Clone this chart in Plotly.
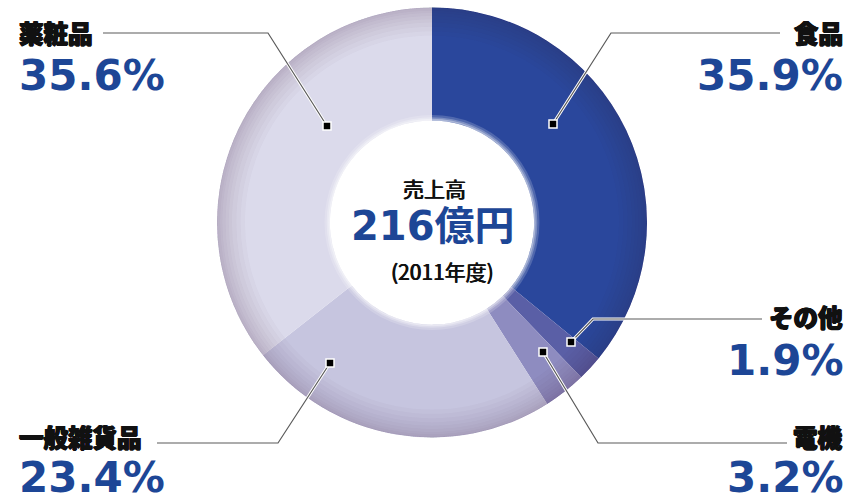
import plotly.graph_objects as go

# ---- data ----
categories = ["食品", "その他", "電機", "一般雑貨品", "薬粧品"]
values = [35.9, 1.9, 3.2, 23.4, 35.6]
total_label = "売上高"
total_value = "216億円"
total_note = "(2011年度)"

# ---- style ----
slice_colors = ["#2a479c", "#5a5fa6", "#8e8cc0", "#c6c5df", "#dbdaeb"]
W, H = 850, 502
CX, CY, R = 432, 222.5, 215
HOLE = 0.475
BLUE = "#1d4696"
JP = "Noto Sans CJK JP"
NUM = "DejaVu Sans, Noto Sans CJK JP"
BOLD_SHADOW = "0.8px 0 0 #111, -0.8px 0 0 #111, 0 0.6px 0 #111, 0 -0.5px 0 #111"
MED_SHADOW = "0.4px 0 0 #111, -0.4px 0 0 #111"


def px(x):
    return x / W


def py(y):
    return 1 - y / H


def ring_domain(r):
    return dict(x=[px(CX - r), px(CX + r)], y=[py(CY + r), py(CY - r)])


dom = ring_domain(R)

fig = go.Figure()
fig.add_trace(go.Pie(
    labels=categories, values=values, sort=False, direction="clockwise",
    rotation=0, hole=HOLE, domain=dom, textinfo="none", hoverinfo="label+percent",
    marker=dict(colors=slice_colors, line=dict(width=0)), showlegend=False,
))

# smooth rim shading (many faint overlay rings)
for h in [0.995, 0.985, 0.975, 0.96, 0.945, 0.93, 0.91, 0.89, 0.87]:
    fig.add_trace(go.Pie(values=[1], hole=h, domain=dom, textinfo="none",
                         hoverinfo="skip", sort=False, showlegend=False,
                         marker=dict(colors=["rgba(60,45,90,0.028)"], line=dict(width=0))))

# soft white glow around the hole
for rr, a in [(0.50, 0.18), (0.49, 0.25), (0.482, 0.35)]:
    r_px = R * rr
    fig.add_trace(go.Pie(values=[1], hole=HOLE / rr, domain=ring_domain(r_px), textinfo="none",
                         hoverinfo="skip", sort=False, showlegend=False,
                         marker=dict(colors=[f"rgba(255,255,255,{a})"], line=dict(width=0))))

# ---- labels with leader lines ----
# (label index, marker point, elbow point, line end, anchor side, text x, label y, pct y)
callouts = [
    (0, (553, 124), (611, 33), (780, 33), "right", 845, 33, 76),
    (1, (571, 342), (593, 319), (762, 319), "right", 845, 316, 360),
    (2, (543, 352), (598, 443), (787, 443), "right", 845, 436, 477.5),
    (3, (330, 363), (278, 443), (157, 443), "left", 17, 436, 477.5),
    (4, (327, 126), (268, 33), (103, 33), "left", 17, 33, 76),
]

shapes = []
annotations = []
for idx, m, e, end, side, tx, ly, pyy in callouts:
    path = f"M {px(m[0])},{py(m[1])} L {px(e[0])},{py(e[1])} L {px(end[0])},{py(end[1])}"
    shapes.append(dict(type="path", path=path, xref="paper", yref="paper",
                       line=dict(color="white", width=3.2)))
    shapes.append(dict(type="path", path=path, xref="paper", yref="paper",
                       line=dict(color="#5a5a5a", width=1.2)))
    s = 4
    shapes.append(dict(type="rect", xref="paper", yref="paper",
                       x0=px(m[0] - s), x1=px(m[0] + s), y0=py(m[1] + s), y1=py(m[1] - s),
                       fillcolor="black", line=dict(color="white", width=1.5)))
    annotations.append(dict(text=categories[idx], x=px(tx), y=py(ly),
                            xref="paper", yref="paper", xanchor=side, yanchor="middle",
                            showarrow=False,
                            font=dict(family=JP, size=24.5, color="#111111", weight=900,
                                      shadow=BOLD_SHADOW)))
    annotations.append(dict(text=f"<b>{values[idx]}%</b>", x=px(tx), y=py(pyy),
                            xref="paper", yref="paper", xanchor=side, yanchor="middle",
                            showarrow=False, font=dict(family=NUM, size=42, color=BLUE)))

# center text
annotations.append(dict(text=total_label, x=px(CX + 2), y=py(188), xref="paper", yref="paper",
                        showarrow=False, xanchor="center", yanchor="middle",
                        font=dict(family=JP, size=21, color="#111111", shadow=MED_SHADOW)))
annotations.append(dict(text=f"<b>{total_value}</b>", x=px(CX + 1), y=py(226), xref="paper",
                        yref="paper", showarrow=False, xanchor="center", yanchor="middle",
                        font=dict(family=NUM, size=40, color=BLUE)))
annotations.append(dict(text=total_note, x=px(CX + 10), y=py(271), xref="paper", yref="paper",
                        showarrow=False, xanchor="center", yanchor="middle",
                        font=dict(family=JP, size=21, color="#111111", shadow=MED_SHADOW)))

fig.update_layout(
    width=W, height=H, margin=dict(l=0, r=0, t=0, b=0),
    paper_bgcolor="white", plot_bgcolor="white",
    shapes=shapes, annotations=annotations, showlegend=False,
)
fig.write_html("out.html")
